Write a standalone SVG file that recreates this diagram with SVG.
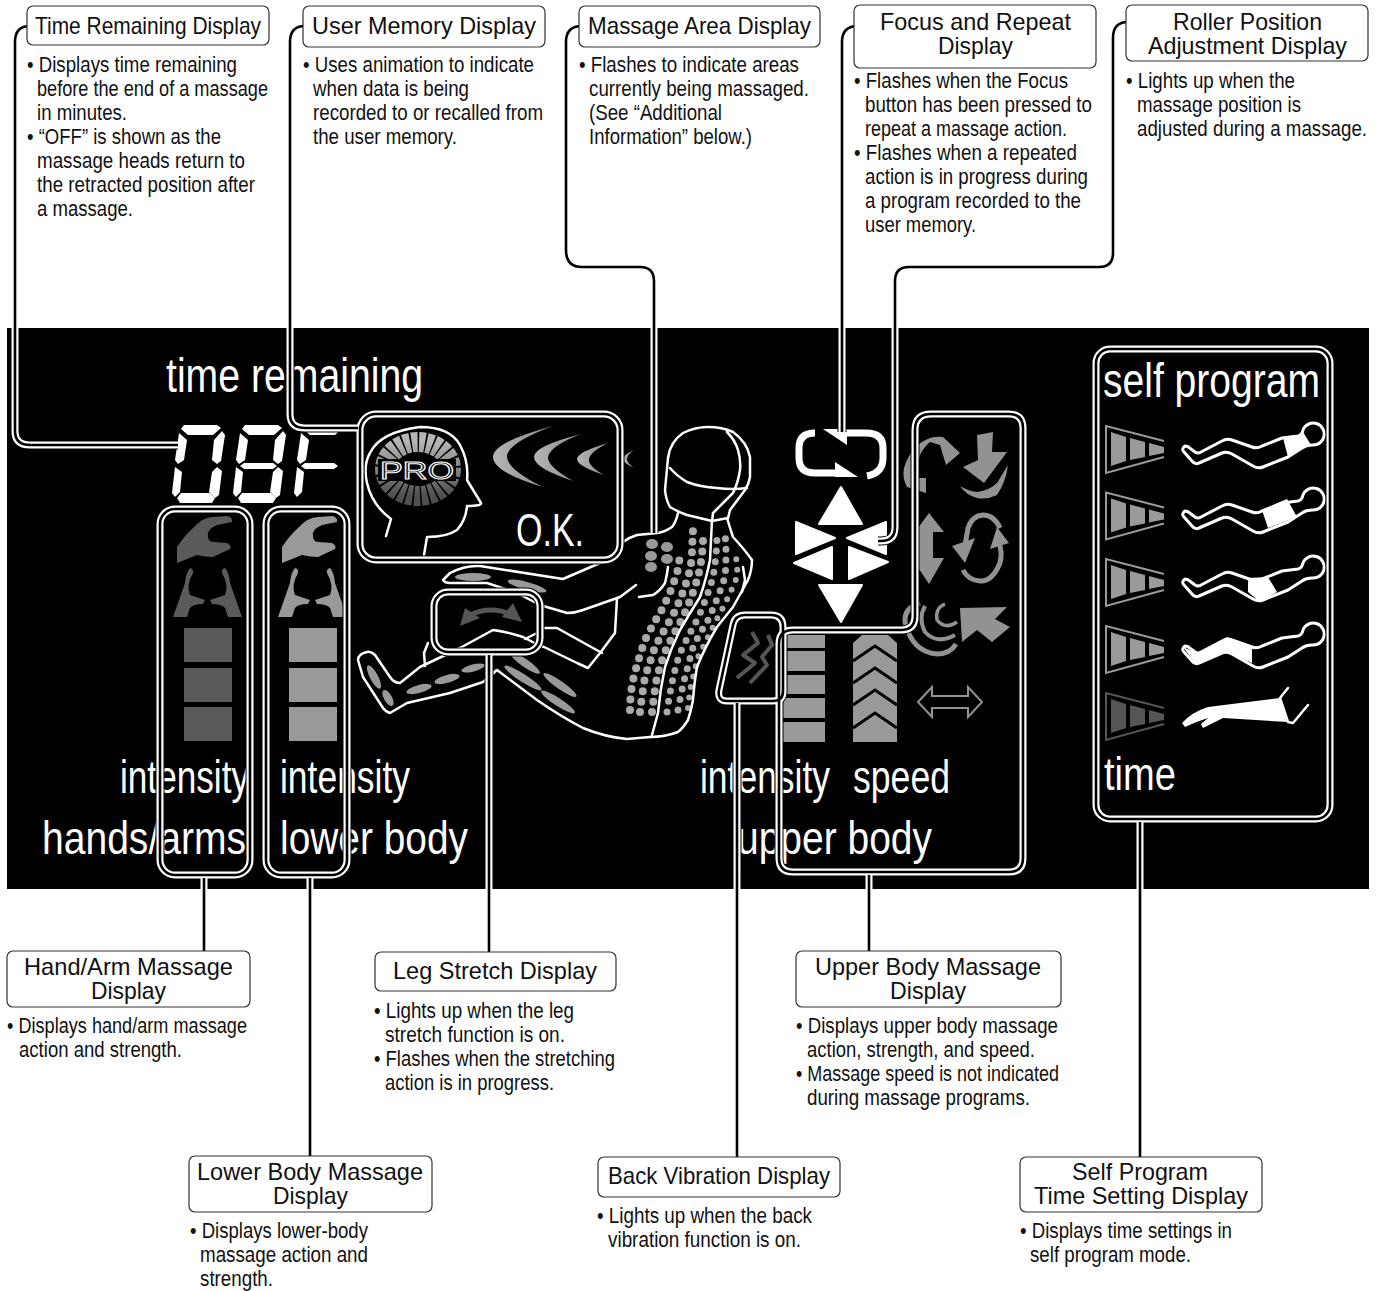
<svg xmlns="http://www.w3.org/2000/svg" width="1377" height="1291" viewBox="0 0 1377 1291">
<style>
text{font-family:"Liberation Sans",Arial,sans-serif;}
.t{font-size:24px;fill:#111;}
.b{font-size:22px;fill:#111;}
.p{font-size:46px;fill:#fff;}
.box{fill:#fff;stroke:#333;stroke-width:1.2;}
.ol{fill:none;stroke:#fff;stroke-width:2.5;stroke-linejoin:round;stroke-linecap:round;}
.g9{fill:#929292;}
.d5{fill:#5a5a5a;}
.l9{fill:#999;}
.w{fill:#fff;stroke:#fff;stroke-width:2;stroke-linejoin:round;}
.sg{fill:none;stroke:#929292;stroke-linecap:butt;}
.dots{fill:none;stroke:#aaa;stroke-width:8;stroke-linecap:round;stroke-dasharray:0 10.6;}
</style>
<defs>
<linearGradient id="spoke" x1="0" y1="0" x2="0" y2="1"><stop offset="0" stop-color="#b5b5b5"/><stop offset="1" stop-color="#4f4f4f"/></linearGradient>
<linearGradient id="wave" x1="0" y1="0" x2="1" y2="0"><stop offset="0" stop-color="#b5b5b5"/><stop offset="1" stop-color="#888"/></linearGradient>
<clipPath id="panelClip"><rect x="7" y="328" width="1362" height="561"/></clipPath>
<g id="hand">
<path d="M177,547 Q185,535 193,528 Q203,517 213,517 L228,516 Q233,518 232,522 L217,525 Q206,530 208,536 Q208,542 214,542 L227,543 Q232,546 230,549 L213,557 Q205,557 197,555 L177,563 Z"/>
<path d="M173,617 L185,583 Q186,572 190,568 Q194,569 193,573 Q186,585 190,595 L205,600 L203,604 Q193,604 190,608 L187,617 Z"/>
<path d="M242,617 L230,583 Q229,572 225,568 Q221,569 222,573 Q229,585 225,595 L210,600 L212,604 Q222,604 225,608 L228,617 Z"/>
<rect x="184" y="628" width="48" height="34"/>
<rect x="184" y="668" width="48" height="34"/>
<rect x="184" y="707" width="48" height="34"/>
</g>
<g id="trap">
<path d="M1164,441 L1106,426 V473 L1164,457" fill="none" stroke="currentColor" stroke-width="2"/>
<path d="M1111,432 L1126,437 V461 L1111,466 Z M1130,438 L1145,442 V457 L1130,460 Z M1149,443 L1164,447 V453 L1149,456 Z" fill="currentColor"/>
</g>
<path id="fig" class="ol" style="stroke-width:3" d="M1185,446 Q1188,446 1191,449 L1195,452 Q1198,454 1201,452 L1222,441 Q1227,438 1232,440 L1252,447 Q1257,449 1262,446 L1282,438 L1298,436 Q1302,435 1303,430 A11,11 0 1 1 1312,445 Q1306,445 1302,448 L1288,457 L1263,467 Q1258,469 1253,466 L1232,454 Q1227,451 1222,453 L1199,463 Q1195,465 1192,461 L1184,452 Q1181,449 1185,446 Z"/>
<path id="seg-top" d="M184,425 H217 L221,428 L213,435 H188 L181,429 Z"/>
<path id="seg-ul" d="M179,433 L187,440 L184,460 L178,464 L175,460 Z"/>
<path id="seg-ur" d="M222,431 L225,435 L221,461 L217,464 L212,460 L214,440 Z"/>
<path id="seg-ll" d="M175,467 L182,472 L180,492 L175,497 L172,493 Z"/>
<path id="seg-lr" d="M212,472 L217,467 L222,471 L219,495 L215,498 L209,492 Z"/>
<path id="seg-b" d="M181,493 H210 L215,498 L212,503 H180 L177,498 Z"/>
<path id="seg-m" d="M183,463 H212 L216,466 L212,469 H183 L179,466 Z"/>
</defs>

<rect id="panel" x="7" y="328" width="1362" height="561" fill="#000"/>

<g id="panel-labels">
<text class="p" x="166" y="392" textLength="257" lengthAdjust="spacingAndGlyphs" style="font-size:48px">time remaining</text>
<text class="p" x="516" y="546" textLength="68" lengthAdjust="spacingAndGlyphs">O.K.</text>
<text class="p" x="120" y="793" textLength="129" lengthAdjust="spacingAndGlyphs">intensity</text>
<text class="p" x="280" y="793" textLength="130" lengthAdjust="spacingAndGlyphs">intensity</text>
<text class="p" x="700" y="793" textLength="130" lengthAdjust="spacingAndGlyphs">intensity</text>
<text class="p" x="853" y="793" textLength="97" lengthAdjust="spacingAndGlyphs">speed</text>
<text class="p" x="42" y="854" textLength="204" lengthAdjust="spacingAndGlyphs">hands/arms</text>
<text class="p" x="280" y="854" textLength="188" lengthAdjust="spacingAndGlyphs">lower body</text>
<text class="p" x="737" y="854" textLength="195" lengthAdjust="spacingAndGlyphs">upper body</text>
<text class="p" x="1104" y="790" textLength="72" lengthAdjust="spacingAndGlyphs">time</text>
<text class="p" x="1103" y="397" textLength="217" lengthAdjust="spacingAndGlyphs" style="font-size:48px">self program</text>
</g>

<g id="digits" fill="#fff">
<use href="#seg-top"/><use href="#seg-ul"/><use href="#seg-ur"/><use href="#seg-ll"/><use href="#seg-lr"/><use href="#seg-b"/>
<g transform="translate(61 0)"><use href="#seg-top"/><use href="#seg-ul"/><use href="#seg-ur"/><use href="#seg-m"/><use href="#seg-ll"/><use href="#seg-lr"/><use href="#seg-b"/></g>
<g transform="translate(122 0)"><use href="#seg-top"/><use href="#seg-ul"/><use href="#seg-ll"/><use href="#seg-m"/></g>
<path d="M330,463 L337,466 L331,469 H320 V463 Z"/>
</g>

<g id="hand-arm-icons" class="d5"><use href="#hand"/></g>
<g id="lower-body-icons" class="l9"><use href="#hand" transform="translate(105 0)"/></g>

<g id="memory-icon">
<ellipse cx="418" cy="469" rx="33" ry="27" fill="none" stroke="url(#spoke)" stroke-width="20" stroke-dasharray="6 1.5"/>
<rect x="378" y="459" width="78" height="22" fill="#000"/>
<path class="ol" d="M386,536 L391,519 Q372,505 367,483 Q363,465 370,453 Q380,432 420,427 Q450,427 460,445 Q469,462 467,480 L481,503 Q482,506 467,506 Q466,520 457,530 Q447,537 427,537 L424,555"/>
<text x="380" y="479" textLength="74" lengthAdjust="spacingAndGlyphs" style="font-size:24px;fill:#111;stroke:#fff;stroke-width:1">PRO</text>
<g fill="url(#wave)">
<path d="M553,426 Q493,442 493,457 Q493,472 543,487 Q505,468 507,455 Q510,442 553,426 Z"/>
<path d="M581,434 Q534,446 534,457 Q534,468 573,481 Q547,466 548,457 Q550,446 581,434 Z"/>
<path d="M608,443 Q577,452 577,459 Q577,466 604,475 Q588,466 589,459 Q590,452 608,443 Z"/>
<path d="M634,450 Q623,455 623,459 Q623,463 634,468 Q627,463 627,459 Q627,455 634,450 Z"/>
</g>
</g>

<g id="body">
<g class="l9">
<ellipse cx="473" cy="577" rx="18" ry="4"/>
<ellipse cx="527" cy="586" rx="20" ry="4" transform="rotate(15 527 586)"/>
<ellipse cx="473" cy="668" rx="12" ry="3.5" transform="rotate(-15 473 668)"/>
<ellipse cx="447" cy="679" rx="13" ry="4" transform="rotate(-15 447 679)"/>
<ellipse cx="419" cy="689" rx="13" ry="4" transform="rotate(-15 419 689)"/>
<ellipse cx="374" cy="677" rx="13" ry="4" transform="rotate(62 374 677)"/>
<ellipse cx="388" cy="698" rx="9" ry="4" transform="rotate(60 388 698)"/>
<ellipse cx="525" cy="663" rx="18" ry="4" transform="rotate(35 525 663)"/>
<ellipse cx="523" cy="678" rx="22" ry="4" transform="rotate(33 523 678)"/>
<ellipse cx="560" cy="685" rx="20" ry="4" transform="rotate(35 560 685)"/>
<ellipse cx="558" cy="702" rx="20" ry="4" transform="rotate(33 558 702)"/>
<ellipse cx="652" cy="544" rx="6" ry="5"/><ellipse cx="651" cy="556" rx="6" ry="5"/><ellipse cx="651" cy="567" rx="6" ry="5"/>
<ellipse cx="667" cy="547" rx="6" ry="5"/><ellipse cx="667" cy="559" rx="6" ry="5"/>
</g>
<path class="dots" d="M630,710 Q630,695 633,680 Q638,660 645,640 Q652,626 660,613 Q670,595 677,573 Q680,560 680,550"/>
<path class="dots" d="M640,712 Q642,695 645,677 Q650,662 655,647 Q663,632 672,617 Q682,597 688,577 Q692,563 692,550 L693,530"/>
<path class="dots" d="M652,712 Q654,695 657,677 Q661,662 667,647 Q675,632 683,617 Q692,597 698,577 Q702,560 703,542 L703,532"/>
<path class="dots" style="stroke-width:7" d="M667,712 Q669,697 672,683 Q675,668 680,653 Q688,636 697,620 Q707,598 713,577 Q717,555 717,533"/>
<path class="dots" style="stroke-width:7" d="M678,710 Q681,693 685,677 Q689,662 693,647 Q700,633 708,620 Q718,598 725,577 Q727,555 725,533"/>
<path class="dots" style="stroke-width:6" d="M688,708 L690,690 Q694,673 698,657 Q708,637 718,617 Q729,597 737,577 Q738,565 735,553"/>
<path class="ol" d="M668,458 Q670,442 683,433 Q695,427 708,427 Q722,427 733,432 Q747,442 750,457 L750,477 Q749,484 745,490 L730,510 L728,518"/>
<path class="ol" d="M727,432 Q735,440 738,450 Q741,460 740,470 Q738,483 733,493 L713,513 L712,522"/>
<path class="ol" d="M670,468 Q677,476 687,482 Q700,487 717,488 Q733,490 747,488"/>
<path class="ol" d="M668,458 L665,490 Q666,500 670,507 Q678,512 687,515 L712,521 L728,518"/>
<path class="ol" d="M678,513 Q676,522 672,527 Q665,532 657,533 L637,535 Q630,537 623,542"/>
<path class="ol" d="M727,518 Q730,528 733,537 Q745,550 752,560 Q752,570 748,580 L733,607 Q725,617 717,627 Q705,647 697,667 Q694,685 693,700 Q691,711 688,720 Q683,728 678,732 Q665,737 650,737"/>
<path class="ol" d="M712,520 Q711,540 710,560 Q706,580 700,597 Q690,613 680,630 Q671,648 665,667 Q660,690 658,713 L652,735"/>
<path class="ol" d="M497,670 L537,700 Q560,716 583,728 Q605,737 627,739 L650,737"/>
<path class="ol" d="M743,567 L745,580 L742,592"/>
<path class="ol" d="M668,567 Q667,575 665,583 Q660,591 653,595 L639,597"/>
<path class="ol" d="M600,563 L563,579 L480,566 Q465,565 450,573 L443,580 Q445,583 450,583 L487,583 L517,593 L540,605 L567,613 Q575,613 583,610 L620,597 L636,585"/>
<path class="ol" d="M617,598 L615,633 L600,653 L588,668 L577,663 L540,645"/>
<path class="ol" d="M545,628 H557 L602,653"/>
<path class="ol" d="M460,648 L493,630 Q508,632 523,637 L542,647"/>
<path class="ol" d="M525,639 L541,631"/>
<path class="ol" d="M460,648 L420,667 L400,683 Q394,683 390,677 L375,655 Q371,651 367,652 Q358,654 358,660 L363,677 L383,708 Q386,712 390,713 L407,703 L450,693 L483,682 L497,670 L487,677"/>
<path class="ol" d="M425,666 L424,653 L428,643"/>
</g>

<g id="leg-stretch-icon">
<path d="M470,615 Q491,605 512,615" fill="none" stroke="#555" stroke-width="5"/>
<path d="M460,626 L465,608 L480,618 Z M522,622 L513,603 L502,617 Z" fill="#555"/>
</g>
<g id="back-vibration-icon" fill="none" stroke="#555" stroke-width="4" stroke-linejoin="round">
<path d="M752,632 L758,643 L743,655 L755,663 L737,678"/>
<path d="M768,635 L772,645 L762,657 L767,665 L750,683"/>
</g>

<g id="repeat-icon">
<path d="M815,433 Q799,433 799,448 V458 Q799,473 815,473 H835" fill="none" stroke="#fff" stroke-width="7"/>
<path d="M845,433 H866 Q883,433 883,448 V458 Q883,473 867,476" fill="none" stroke="#fff" stroke-width="7"/>
<path d="M823,429 H847 V445 Z M835,462 L858,477 H835 Z" fill="#fff"/>
</g>
<g id="position-arrows">
<path class="w" d="M841,487 L862,524 H819 Z"/>
<path class="w" d="M796,522 L835,538 L796,554 Z"/>
<path class="w" d="M886,522 L847,538 L886,554 Z"/>
<path class="w" d="M832,547 L794,563 L832,579 Z"/>
<path class="w" d="M849,547 L888,562 L849,579 Z"/>
<path class="w" d="M819,585 H862 L841,622 Z"/>
</g>

<g id="upper-body-icons">
<path class="g9" d="M926,493 L907,487 Q902,478 904,468 Q907,458 913,450 Q921,441 930,438 Q937,436 943,437 L960,453 L946,465 L940,445 L930,442 Q924,447 920,455 Q917,466 918,478 H926 Z"/>
<path class="g9" d="M977,435 L993,432 L992,452 L1007,452 L984,483 L963,467 L978,460 Z"/>
<path class="g9" d="M1008,465 Q1006,482 997,495 Q987,500 977,498 Q966,495 960,486 Q968,491 977,492 Q988,491 997,483 Z"/>
<path class="g9" d="M929,513 L944,532 H933 V558 H944 L929,584 L915,563 V532 Z"/>
<path d="M1000,528 Q994,515 983,515 Q972,516 968,528 L965,545" class="sg" stroke-width="5"/>
<path class="g9" d="M952,546 L975,538 L965,563 Z"/>
<path d="M998,540 Q1003,552 1000,563 Q992,582 980,581 Q968,580 963,570" class="sg" stroke-width="5"/>
<path class="g9" d="M1009,543 L997,527 L990,549 Z"/>
<path d="M920,603 Q904,608 905,622 Q912,652 937,654 Q950,654 956,644" class="sg" stroke-width="5"/>
<path d="M925,606 Q918,618 925,632 Q937,645 955,635" class="sg" stroke-width="4"/>
<path d="M945,604 Q935,608 937,620 Q945,630 957,622" class="sg" stroke-width="3.5"/>
<path class="g9" d="M960,608 L1007,607 L995,619 L1010,627 L992,642 L977,630 L962,642 Z"/>
<path d="M918,702 L932,687 V696 H968 V687 L982,702 L968,717 V708 H932 V717 Z" fill="none" stroke="#929292" stroke-width="2"/>
<path class="l9" d="M778,635 H825 V648 H778 Z M778,651 H825 V671 H778 Z M778,675 H825 V694 H778 Z M778,698 H825 V718 H778 Z M778,722 H825 V742 H778 Z"/>
<path class="l9" d="M853,643 L862,635 H888 L897,643 V742 H853 Z"/>
<path d="M853,661 L875,646 L897,661 M853,683 L875,668 L897,683 M853,705 L875,690 L897,705 M853,728 L875,713 L897,728" fill="none" stroke="#000" stroke-width="3"/>
</g>

<g id="self-program-icons">
<g color="#9a9a9a"><use href="#trap"/><use href="#trap" y="66.5"/><use href="#trap" y="133"/><use href="#trap" y="200"/></g>
<g color="#555"><use href="#trap" y="267"/></g>
<use href="#fig"/><use href="#fig" y="65"/><use href="#fig" y="133"/><use href="#fig" y="200"/>
<g fill="#fff">
<path d="M1283,438 L1298,436 L1303,432 L1311,445 L1302,448 L1288,457 Z"/>
<path d="M1262,510 L1287,499 L1297,517 L1268,528 Z"/>
<path d="M1248,578 L1268,577 L1277,592 L1260,602 L1248,592 Z"/>
<path d="M1183,647 L1198,654 L1227,637 L1252,646 V663 L1227,652 L1195,663 Z"/>
<path d="M1182,723 Q1192,712 1208,707 L1280,698 L1288,722 L1223,718 L1203,728 L1201,724 L1208,718 Q1195,722 1185,727 Z"/>
</g>
<path class="ol" d="M1288,688 L1280,698 L1288,722 L1293,723 L1308,705"/>
</g>

<g id="connectors">
<use href="#conn-paths" stroke="#000" stroke-width="9" clip-path="url(#panelClip)"/>
<use href="#conn-paths" stroke="#fff" stroke-width="7"/>
<g stroke="#000" stroke-width="2.6">
<g id="conn-paths" fill="none">
<path d="M30,26 Q15,26 15,42 V431 Q15,445 30,445 H178"/>
<path d="M305,26 Q290,26 290,42 V414 Q290,428 305,428 H358"/>
<path d="M582,26 Q566,26 566,42 V250 Q566,267 582,267 H640 Q654,267 654,281 V533"/>
<path d="M858,26 Q842,26 842,42 V432"/>
<path d="M1128,22 Q1113,22 1113,38 V253 Q1113,267 1099,267 H909 Q895,267 895,281 V527 Q895,541 881,541 H878"/>
<path d="M204,878 V951"/>
<path d="M310,878 V1157"/>
<path d="M489,655 V952"/>
<path d="M737,703 V1157"/>
<path d="M869,875 V951"/>
<path d="M1140,822 V1157"/>
<rect x="160" y="509" width="90" height="366" rx="15"/>
<rect x="266" y="509" width="81" height="366" rx="15"/>
<rect x="360" y="414" width="260" height="146" rx="16"/>
<rect x="434" y="592" width="106" height="60" rx="14"/>
<rect x="1096" y="349" width="234" height="470" rx="14"/>
<path d="M915,430 Q915,414 931,414 H1009 Q1023,414 1023,428 V858 Q1023,872 1009,872 H793 Q779,872 779,858 V644 Q779,630 793,630 H901 Q915,630 915,616 Z"/>
<path d="M745,615 H771 Q783,615 783,627 V691 Q783,701 773,701 H727 Q717,701 719,690 L733,625 Q735,615 745,615 Z"/>
</g>
</g>
</g>

<g id="node-time-remaining">
<rect class="box" x="27" y="6" width="242" height="39" rx="6"/>
<text class="t" x="35" y="34" textLength="226" lengthAdjust="spacingAndGlyphs">Time Remaining Display</text>
<text class="b" x="27" y="72" textLength="210" lengthAdjust="spacingAndGlyphs">• Displays time remaining</text>
<text class="b" x="37" y="96" textLength="231" lengthAdjust="spacingAndGlyphs">before the end of a massage</text>
<text class="b" x="37" y="120" textLength="90" lengthAdjust="spacingAndGlyphs">in minutes.</text>
<text class="b" x="27" y="144" textLength="194" lengthAdjust="spacingAndGlyphs">• “OFF” is shown as the</text>
<text class="b" x="37" y="168" textLength="208" lengthAdjust="spacingAndGlyphs">massage heads return to</text>
<text class="b" x="37" y="192" textLength="218" lengthAdjust="spacingAndGlyphs">the retracted position after</text>
<text class="b" x="37" y="216" textLength="96" lengthAdjust="spacingAndGlyphs">a massage.</text>
</g>
<g id="node-user-memory">
<rect class="box" x="303" y="6" width="242" height="41" rx="6"/>
<text class="t" x="312" y="34" textLength="224" lengthAdjust="spacingAndGlyphs">User Memory Display</text>
<text class="b" x="303" y="72" textLength="231" lengthAdjust="spacingAndGlyphs">• Uses animation to indicate</text>
<text class="b" x="313" y="96" textLength="156" lengthAdjust="spacingAndGlyphs">when data is being</text>
<text class="b" x="313" y="120" textLength="230" lengthAdjust="spacingAndGlyphs">recorded to or recalled from</text>
<text class="b" x="313" y="144" textLength="144" lengthAdjust="spacingAndGlyphs">the user memory.</text>
</g>
<g id="node-massage-area">
<rect class="box" x="579" y="6" width="241" height="41" rx="6"/>
<text class="t" x="588" y="34" textLength="223" lengthAdjust="spacingAndGlyphs">Massage Area Display</text>
<text class="b" x="579" y="72" textLength="220" lengthAdjust="spacingAndGlyphs">• Flashes to indicate areas</text>
<text class="b" x="589" y="96" textLength="220" lengthAdjust="spacingAndGlyphs">currently being massaged.</text>
<text class="b" x="589" y="120" textLength="133" lengthAdjust="spacingAndGlyphs">(See “Additional</text>
<text class="b" x="589" y="144" textLength="163" lengthAdjust="spacingAndGlyphs">Information” below.)</text>
</g>
<g id="node-focus-repeat">
<rect class="box" x="854" y="5" width="242" height="63" rx="6"/>
<text class="t" x="880" y="30" textLength="191" lengthAdjust="spacingAndGlyphs">Focus and Repeat</text>
<text class="t" x="938" y="54" textLength="75" lengthAdjust="spacingAndGlyphs">Display</text>
<text class="b" x="854" y="88" textLength="214" lengthAdjust="spacingAndGlyphs">• Flashes when the Focus</text>
<text class="b" x="865" y="112" textLength="227" lengthAdjust="spacingAndGlyphs">button has been pressed to</text>
<text class="b" x="865" y="136" textLength="202" lengthAdjust="spacingAndGlyphs">repeat a massage action.</text>
<text class="b" x="854" y="160" textLength="223" lengthAdjust="spacingAndGlyphs">• Flashes when a repeated</text>
<text class="b" x="865" y="184" textLength="223" lengthAdjust="spacingAndGlyphs">action is in progress during</text>
<text class="b" x="865" y="208" textLength="216" lengthAdjust="spacingAndGlyphs">a program recorded to the</text>
<text class="b" x="865" y="232" textLength="111" lengthAdjust="spacingAndGlyphs">user memory.</text>
</g>
<g id="node-roller-position">
<rect class="box" x="1126" y="5" width="242" height="56" rx="6"/>
<text class="t" x="1173" y="30" textLength="149" lengthAdjust="spacingAndGlyphs">Roller Position</text>
<text class="t" x="1148" y="54" textLength="199" lengthAdjust="spacingAndGlyphs">Adjustment Display</text>
<text class="b" x="1126" y="88" textLength="169" lengthAdjust="spacingAndGlyphs">• Lights up when the</text>
<text class="b" x="1137" y="112" textLength="164" lengthAdjust="spacingAndGlyphs">massage position is</text>
<text class="b" x="1137" y="136" textLength="230" lengthAdjust="spacingAndGlyphs">adjusted during a massage.</text>
</g>
<g id="node-hand-arm">
<rect class="box" x="7" y="951" width="243" height="56" rx="6"/>
<text class="t" x="24" y="975" textLength="209" lengthAdjust="spacingAndGlyphs">Hand/Arm Massage</text>
<text class="t" x="91" y="999" textLength="75" lengthAdjust="spacingAndGlyphs">Display</text>
<text class="b" x="7" y="1033" textLength="240" lengthAdjust="spacingAndGlyphs">• Displays hand/arm massage</text>
<text class="b" x="19" y="1057" textLength="163" lengthAdjust="spacingAndGlyphs">action and strength.</text>
</g>
<g id="node-leg-stretch">
<rect class="box" x="375" y="952" width="241" height="39" rx="6"/>
<text class="t" x="393" y="979" textLength="204" lengthAdjust="spacingAndGlyphs">Leg Stretch Display</text>
<text class="b" x="374" y="1018" textLength="200" lengthAdjust="spacingAndGlyphs">• Lights up when the leg</text>
<text class="b" x="385" y="1042" textLength="180" lengthAdjust="spacingAndGlyphs">stretch function is on.</text>
<text class="b" x="374" y="1066" textLength="241" lengthAdjust="spacingAndGlyphs">• Flashes when the stretching</text>
<text class="b" x="385" y="1090" textLength="169" lengthAdjust="spacingAndGlyphs">action is in progress.</text>
</g>
<g id="node-upper-body">
<rect class="box" x="796" y="951" width="265" height="56" rx="6"/>
<text class="t" x="815" y="975" textLength="226" lengthAdjust="spacingAndGlyphs">Upper Body Massage</text>
<text class="t" x="890" y="999" textLength="76" lengthAdjust="spacingAndGlyphs">Display</text>
<text class="b" x="796" y="1033" textLength="262" lengthAdjust="spacingAndGlyphs">• Displays upper body massage</text>
<text class="b" x="807" y="1057" textLength="228" lengthAdjust="spacingAndGlyphs">action, strength, and speed.</text>
<text class="b" x="796" y="1081" textLength="263" lengthAdjust="spacingAndGlyphs">• Massage speed is not indicated</text>
<text class="b" x="807" y="1105" textLength="223" lengthAdjust="spacingAndGlyphs">during massage programs.</text>
</g>
<g id="node-lower-body">
<rect class="box" x="189" y="1156" width="243" height="56" rx="6"/>
<text class="t" x="197" y="1180" textLength="226" lengthAdjust="spacingAndGlyphs">Lower Body Massage</text>
<text class="t" x="273" y="1204" textLength="75" lengthAdjust="spacingAndGlyphs">Display</text>
<text class="b" x="190" y="1238" textLength="178" lengthAdjust="spacingAndGlyphs">• Displays lower-body</text>
<text class="b" x="200" y="1262" textLength="168" lengthAdjust="spacingAndGlyphs">massage action and</text>
<text class="b" x="200" y="1286" textLength="73" lengthAdjust="spacingAndGlyphs">strength.</text>
</g>
<g id="node-back-vibration">
<rect class="box" x="598" y="1157" width="242" height="40" rx="6"/>
<text class="t" x="608" y="1184" textLength="222" lengthAdjust="spacingAndGlyphs">Back Vibration Display</text>
<text class="b" x="597" y="1223" textLength="215" lengthAdjust="spacingAndGlyphs">• Lights up when the back</text>
<text class="b" x="608" y="1247" textLength="193" lengthAdjust="spacingAndGlyphs">vibration function is on.</text>
</g>
<g id="node-self-program">
<rect class="box" x="1020" y="1157" width="242" height="55" rx="6"/>
<text class="t" x="1072" y="1180" textLength="136" lengthAdjust="spacingAndGlyphs">Self Program</text>
<text class="t" x="1034" y="1204" textLength="214" lengthAdjust="spacingAndGlyphs">Time Setting Display</text>
<text class="b" x="1020" y="1238" textLength="212" lengthAdjust="spacingAndGlyphs">• Displays time settings in</text>
<text class="b" x="1030" y="1262" textLength="161" lengthAdjust="spacingAndGlyphs">self program mode.</text>
</g>
</svg>
